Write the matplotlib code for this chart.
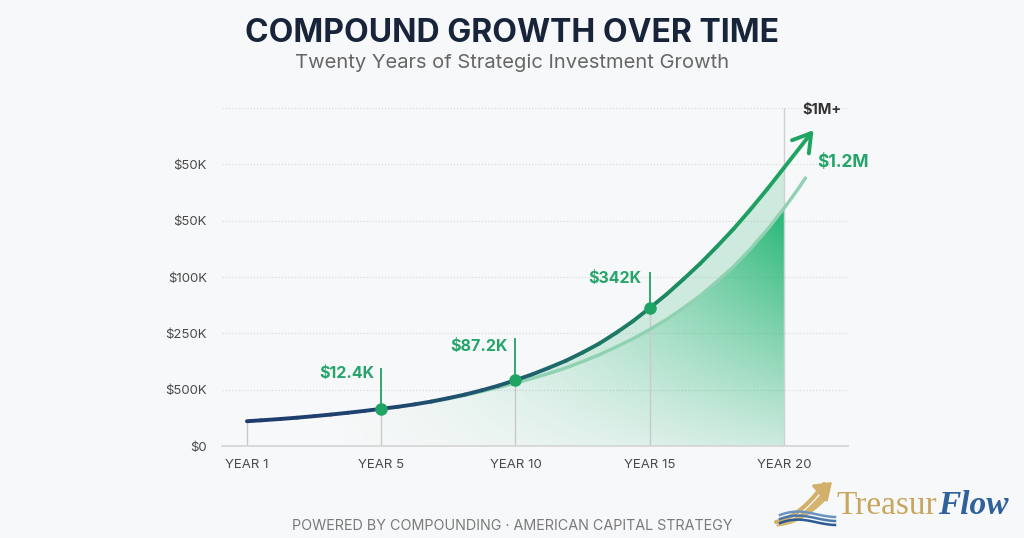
import numpy as np
import matplotlib
matplotlib.use("Agg")
import matplotlib.pyplot as plt
from matplotlib.collections import LineCollection
from matplotlib.colors import LinearSegmentedColormap
from matplotlib.patches import PathPatch
from matplotlib.path import Path

plt.rcParams['font.family'] = ['Inter', 'DejaVu Sans']

# ---- data ----
year_labels = ['YEAR 1', 'YEAR 5', 'YEAR 10', 'YEAR 15', 'YEAR 20']
year_pos = [0, 1, 2, 3, 4]
ytick_pos = [0, 1, 2, 3, 4, 5]
ytick_labels = ['$0', '$500K', '$250K', '$100K', '$50K', '$50K']
grid_levels = [1, 2, 3, 4, 5, 6]

# main (portfolio) curve, x in year-slot units
main_x = [0, 0.25, 0.5, 0.75, 1.0, 1.25, 1.5, 1.75, 2.0, 2.25, 2.5, 2.75, 3.0,
          3.25, 3.5, 3.75, 4.0, 4.22]
main_y = [0.44, 0.48, 0.53, 0.59, 0.66, 0.74, 0.85, 0.99, 1.17, 1.39, 1.66, 2.01, 2.45,
          2.96, 3.54, 4.20, 4.94, 5.61]

# lighter projection curve
lower_x = [0, 0.25, 0.5, 0.75, 1.0, 1.25, 1.5, 1.75, 2.0, 2.25, 2.5, 2.75, 3.0,
           3.25, 3.5, 3.75, 4.0, 4.16]
lower_y = [0.44, 0.48, 0.53, 0.59, 0.66, 0.74, 0.84, 0.97, 1.12, 1.29, 1.50, 1.76, 2.07,
           2.45, 2.92, 3.50, 4.22, 4.76]

marker_x = [1, 2, 3]
marker_y = [0.66, 1.17, 2.45]
marker_labels = ['$12.4K', '$87.2K', '$342K']
stem_top = [1.39, 1.92, 3.09]

end_label = '$1.2M'
top_label = '$1M+'

bg = '#f7f8f9'
green = '#1fa463'
green_txt = '#25a56a'
grey_txt = '#4a4a4a'


def smooth(xs, ys):
    # draw the read points as a Catmull-Rom style bezier path, flattened for plotting
    p = np.column_stack([xs, ys]).astype(float)
    ext = np.vstack([p[0], p, p[-1]])
    verts = [p[0]]
    codes = [Path.MOVETO]
    for i in range(1, len(ext) - 2):
        p0, p1, p2, p3 = ext[i - 1], ext[i], ext[i + 1], ext[i + 2]
        verts += [p1 + (p2 - p0) / 6, p2 - (p3 - p1) / 6, p2]
        codes += [Path.CURVE4] * 3
    poly = Path(verts, codes).to_polygons(closed_only=False)[0]
    return poly[:, 0], poly[:, 1]


fig = plt.figure(figsize=(10.24, 5.38), dpi=100, facecolor=bg)
ax = fig.add_axes([222 / 1024, 92 / 538, 626 / 1024, 351 / 538])
ax.set_facecolor(bg)
ax.set_xlim(-0.186, 4.477)
ax.set_ylim(0, 6.234)
for s in ['top', 'right', 'left']:
    ax.spines[s].set_visible(False)
ax.spines['bottom'].set_color('#d6d6d6')
ax.spines['bottom'].set_linewidth(1.3)

ax.hlines(grid_levels, -0.186, 4.477, colors='#dddddd', linestyles=(0, (1, 1.5)), lw=0.9, zorder=0)

ax.set_yticks(ytick_pos, ytick_labels)
ax.set_xticks(year_pos, year_labels)
ax.tick_params(axis='y', length=0, pad=11, labelsize=9.5, labelcolor=grey_txt)
ax.tick_params(axis='x', length=0, pad=9, labelsize=9.5, labelcolor=grey_txt)

mx, my = smooth(main_x, main_y)
lx, ly = smooth(lower_x, lower_y)

# gradient fill under the lighter curve (up to year 20)
keep = lx <= 4.0
poly_x = np.concatenate([[0], lx[keep], [4.0]])
poly_y = np.concatenate([[0], ly[keep], [0]])
clip = Path(np.column_stack([poly_x, poly_y]))
gx, gy = np.meshgrid(np.linspace(0, 4, 300), np.linspace(0, 4.4, 300))
alpha = np.clip((gx - 0.5) / 3.5, 0, 1) ** 1.5 * (0.2 + 0.8 * gy / 4.3)
img = np.zeros(gx.shape + (4,))
img[..., 0] = 34 / 255
img[..., 1] = 181 / 255
img[..., 2] = 115 / 255
img[..., 3] = np.clip(alpha, 0, 0.95)
im = ax.imshow(img, extent=[0, 4, 0, 4.4], origin='lower', aspect='auto', zorder=1,
               interpolation='bilinear')
im.set_clip_path(PathPatch(clip, transform=ax.transData))

# light band between curves
mk = (mx >= 1.44) & (mx <= 4.0)
lk = (lx >= 1.44) & (lx <= 4.0)
band_x = np.concatenate([mx[mk], [4.0], lx[lk][::-1]])
band_y = np.concatenate([my[mk], [np.interp(4.0, mx, my)], ly[lk][::-1]])
ax.fill(band_x, band_y, color='#2bb673', alpha=0.2, lw=0, zorder=1)

# lighter curve
lv = lx >= 1.3
ax.plot(lx[lv], ly[lv], color='#8fd1b0', lw=2.4, zorder=2, solid_capstyle='round')

# vertical guide lines
for xp, top in zip(year_pos[:4], [main_y[0]] + marker_y):
    ax.vlines(xp, 0, top, colors='#c9c9c9', lw=1, zorder=1.5)
ax.vlines(4, 0, 6, colors='#d0d0d0', lw=1, zorder=1.5)
for xp, y0, y1 in zip(marker_x, marker_y, stem_top):
    ax.vlines(xp, y0, y1, colors=green, lw=1.3, zorder=2)

# main curve with navy -> green gradient
body = mx <= 4.12
pts = np.column_stack([mx[body], my[body]])
segs = np.stack([pts[:-1], pts[1:]], axis=1)
cmap = LinearSegmentedColormap.from_list(
    'g', [(0, '#1e3a6e'), (0.24, '#1f4471'), (0.47, '#1f5d6c'), (0.71, '#1c8262'),
          (0.88, '#1f9f62'), (1, '#1fa463')])
lc = LineCollection(segs, cmap=cmap, norm=plt.Normalize(0, 4.22), lw=2.8, zorder=3,
                    capstyle='round')
lc.set_array((pts[:-1, 0] + pts[1:, 0]) / 2)
ax.add_collection(lc)
ax.annotate('', xy=(main_x[-1], main_y[-1]), xytext=(pts[-1, 0], pts[-1, 1]),
            arrowprops=dict(arrowstyle='->,head_length=0.9,head_width=0.55', lw=2.8,
                            color=green, mutation_scale=14, shrinkA=0, shrinkB=0),
            zorder=3, annotation_clip=False)

ax.plot(marker_x, marker_y, 'o', color=green, ms=8, zorder=4)

# call-out labels
label_pos = [(0.95, 1.28), (1.94, 1.76), (2.935, 2.98)]
for (tx, ty), t in zip(label_pos, marker_labels):
    ax.text(tx, ty, t, ha='right', va='center', fontsize=11.5, fontweight='bold', color=green_txt)
ax.text(4.246, 5.03, end_label, ha='left', va='center', fontsize=12.5, fontweight='bold',
        color=green_txt, clip_on=False)
ax.text(4.134, 5.97, top_label, ha='left', va='center', fontsize=10.5, fontweight='bold',
        color='#333333', clip_on=False)

# titles and footer
fig.text(0.5, 1 - 33 / 538, 'COMPOUND GROWTH OVER TIME', ha='center', va='center',
         fontsize=23, fontweight='bold', color='#17243a')
fig.text(0.5, 1 - 63 / 538, 'Twenty Years of Strategic Investment Growth', ha='center',
         va='center', fontsize=14.5, color='#666666')
fig.text(0.5, 1 - 526 / 538, 'POWERED BY COMPOUNDING · AMERICAN CAPITAL STRATEGY', ha='center',
         va='center', fontsize=10.3, color='#7a7a7a')

# logo
lg = fig.add_axes([0, 0, 1, 1], facecolor='none')
lg.set_xlim(0, 1024)
lg.set_ylim(538, 0)
lg.axis('off')
t = np.linspace(0, 1, 40)
lg.fill_between(776 + 50 * t, 524 - 8 * t - 30 * t ** 2, 526 - 6 * t - 24 * t ** 2 + 3 * t,
                color='#d4b46e', lw=0)
lg.plot(776 + 48 * t, 522 - 10 * t - 28 * t ** 2, color='#d2b06a', lw=3, solid_capstyle='round')
lg.annotate('', xy=(832, 482), xytext=(820, 493),
            arrowprops=dict(arrowstyle='-|>,head_length=1.0,head_width=0.7', color='#d2b06a',
                            lw=2, mutation_scale=10, shrinkA=0, shrinkB=0))
for k, c in enumerate(['#6b93c0', '#4a78ad', '#2c5a92']):
    lg.plot(780 + 55 * t, 515 + 4 * k - 7 * np.sin(np.pi * t) * (1 - t) + 2 * t, color=c, lw=1.8)
tr = lg.text(836, 506, 'Treasur', ha='left', va='center', fontsize=24, color='#c8a65e',
             family='Liberation Serif')
fig.canvas.draw()
bb = tr.get_window_extent().transformed(lg.transData.inverted())
lg.text(bb.x1 + 1, 506, 'Flow', ha='left', va='center', fontsize=24, color='#2f619a',
        family='Liberation Serif', style='italic', fontweight='bold')

fig.savefig('out.png', dpi=100, facecolor=bg)
